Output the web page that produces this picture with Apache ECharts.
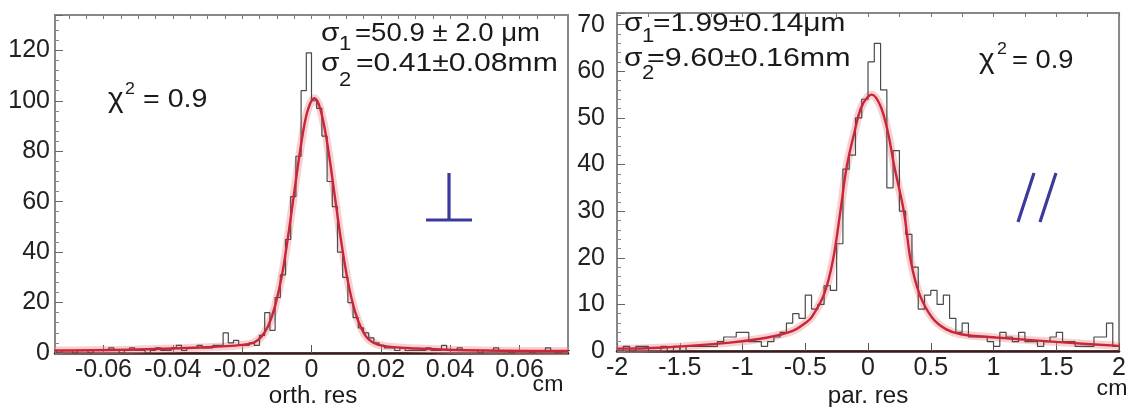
<!DOCTYPE html>
<html><head><meta charset="utf-8">
<script src="https://cdn.jsdelivr.net/npm/echarts@6/dist/echarts.min.js"></script>
<style>html,body{margin:0;padding:0;background:#fff}#c{width:1129px;height:407px}</style>
</head><body><div id="c"></div>
<script>
// ---- Left panel (orthogonal residuals) ----
const orthBinStart = -0.075;
const orthBinWidth = 0.0015;
const orthCounts = [
 1,0,1,1,0,1,1,0,1,1,
 1,2,1,0,1,2,1,1,0,1,
 2,1,1,2,3,1,2,2,3,2,
 2,3,3,8,4,5,3,3,4,3,
 7,16,9,22,31,45,62,78,104,119,
 100,97,86,68,58,40,30,20,14,10,
 8,6,4,3,2,2,1,2,1,1,
 1,1,2,1,1,3,1,1,2,1,
 1,1,0,1,1,2,1,1,0,1,
 1,1,0,1,1,2,1,0,1,1
];
const orthFitX = [-0.074,-0.05,-0.03,-0.02,-0.0165,-0.0145,-0.0125,-0.0105,-0.0085,-0.0065,-0.0045,-0.0025,-0.001,0.0008,0.0025,0.0045,0.0065,0.0085,0.0105,0.0125,0.0145,0.0165,0.02,0.03,0.05,0.074];
const orthFitY = [1,1.4,2.3,3.2,4.2,6.4,10.7,18.7,31,48.6,68.5,87,96.6,101,97,83.5,64.4,44.8,28.4,16.7,9.4,5.4,3,1.8,1,0.8];
const orthXTicks = [-0.06,-0.04,-0.02,0,0.02,0.04,0.06];

// ---- Right panel (parallel residuals) ----
const parBinStart = -2;
const parBinWidth = 0.05;
const parCounts = [
 0,1,0,1,1,0,0,1,0,1,
 0,1,1,1,1,1,2,3,3,4,
 4,2,2,1,2,3,4,6,8,7,
 12,9,10,14,13,23,39,42,50,54,
 62,66,56,35,43,30,25,18,9,12,
 13,10,12,7,4,6,3,3,3,2,
 1,4,3,2,4,2,2,1,2,3,
 4,2,2,1,1,1,3,3,6,1
];
const parFitX = [-2,-1.66,-1.1,-0.8,-0.6,-0.5,-0.45,-0.35,-0.28,-0.22,-0.17,-0.11,-0.05,0.03,0.1,0.16,0.21,0.285,0.34,0.41,0.51,0.62,0.74,1.02,1.58,2];
const parFitY = [0.5,0.7,1.8,2.9,4.3,6,7.2,12.2,19.4,30,39.5,46.7,52.5,55,52.5,46.7,39.5,30,19.4,12.2,7.2,4.7,3.6,2.9,1.8,1.1];
const parXTicks = [-2,-1.5,-1,-0.5,0,0.5,1,1.5,2];

function steps(start, w, counts){
  const d = counts.map((v,i)=>[start+i*w, v]);
  d.push([start+counts.length*w, counts[counts.length-1]]);
  return d;
}
function zip(xs, ys){ return xs.map((x,i)=>[x, ys[i]]); }
function range(a,b,s){ const r=[]; for(let v=a; v<=b+1e-9; v+=s) r.push(+v.toFixed(6)); return r; }

const FONT = 'Liberation Sans, Arial, sans-serif';
const labelStyle = {fontFamily: FONT, fontSize: 25, color: '#222'};
const chart = echarts.init(document.getElementById('c'), null, {renderer:'canvas'});

function xAx(grid, min, max, labels, minor, fmt){
  return [{
    type:'value', gridIndex:grid, min, max,
    axisLine:{show:true, onZero:false, lineStyle:{color:'#3a1a1a', width:2.5}},
    axisTick:{show:true, inside:true, length:8, customValues:labels, lineStyle:{color:'#555'}},
    axisLabel:Object.assign({customValues:labels, margin:5, formatter:fmt}, labelStyle),
    splitLine:{show:false}
  },{
    type:'value', gridIndex:grid, min, max,
    axisLine:{show:false, onZero:false},
    axisTick:{show:true, inside:true, length:4, customValues:minor, lineStyle:{color:'#777'}},
    axisLabel:{show:false}, splitLine:{show:false}
  }];
}
function yAx(grid, max, interval, margin){
  return {
    type:'value', gridIndex:grid, min:0, max, interval,
    axisLine:{show:true, onZero:false, lineStyle:{color:'#888', width:1.5}},
    axisTick:{show:true, inside:true, length:8, lineStyle:{color:'#666'}},
    minorTick:{show:true, splitNumber:5, length:4, lineStyle:{color:'#888'}},
    axisLabel:Object.assign({margin, showMaxLabel:false}, labelStyle),
    splitLine:{show:false}
  };
}
const fmtOrth = v => (Math.abs(v)<1e-9 ? '0' : String(+v.toFixed(2)));
const fmtPar = v => (Math.abs(v)<1e-9 ? '0' : String(+v.toFixed(1)));

const xAxes = [].concat(
  xAx(0, -0.074, 0.074, orthXTicks, range(-0.07,0.07,0.005), fmtOrth),
  xAx(1, -2, 2, parXTicks, range(-2,2,0.25), fmtPar)
);
const yAxes = [yAx(0, 134, 20, 5), yAx(1, 72.5, 10, 12)];

const fitColor = '#c8263a', haloColor = 'rgba(240,150,150,0.45)', histColor = '#4a4a4a';
function histSeries(xi, yi, data){ return {type:'line', xAxisIndex:xi, yAxisIndex:yi, data, step:'end', symbol:'none', lineStyle:{color:histColor, width:1.2}, z:3}; }
function fitSeries(xi, yi, data){ return [
  {type:'line', xAxisIndex:xi, yAxisIndex:yi, data, smooth:0.35, symbol:'none', lineStyle:{color:haloColor, width:8}, z:2},
  {type:'line', xAxisIndex:xi, yAxisIndex:yi, data, smooth:0.35, symbol:'none', lineStyle:{color:fitColor, width:2.4}, z:4}
]; }

function txt(x, y, s, size, sx, extra){
  return Object.assign({type:'text', x, y, scaleX: sx||1,
    style:Object.assign({text:s, font: size+'px '+FONT, fill:'#1a1a1a', textVerticalAlign:'middle'}, extra||{})});
}
function line(x1,y1,x2,y2){ return {type:'line', shape:{x1,y1,x2,y2}, style:{stroke:'#3a3a9c', lineWidth:3.2}}; }

const graphics = [
  // left panel annotations
  txt(321, 34, 'σ', 26, 1.15), txt(339, 44, '1', 21, 1.05), txt(355, 34, '=50.9 ± 2.0 μm', 26, 1.06),
  txt(321, 64, 'σ', 26, 1.15), txt(339, 80, '2', 21, 1.05), txt(356, 64, '=0.41±0.08mm', 26, 1.16),
  txt(108, 100, 'χ', 27, 1.1), txt(125, 89, '2', 17, 1.05), txt(143, 100, '= 0.9', 26, 1.1),
  line(449,173,449,220), line(426,220,472,220),
  txt(313, 397, 'orth. res', 23, 1.05, {textAlign:'center'}),
  txt(548, 385, 'cm', 22, 1.05, {textAlign:'center'}),
  // right panel annotations
  txt(624, 24, 'σ', 26, 1.15), txt(642, 36, '1', 21, 1.05), txt(653, 24, '=1.99±0.14μm', 26, 1.15),
  txt(624, 59, 'σ', 26, 1.15), txt(642, 73, '2', 21, 1.05), txt(647, 59, '=9.60±0.16mm', 26, 1.17),
  txt(979, 61, 'χ', 27, 1.1), txt(997, 49, '2', 17, 1.05), txt(1012, 61, '= 0.9', 26, 1.05),
  line(1034,173,1018,222), line(1056,173,1040,222),
  txt(868, 397, 'par. res', 23, 1.05, {textAlign:'center'}),
  txt(1112, 389, 'cm', 22, 1.05, {textAlign:'center'})
];

chart.setOption({
  animation:false,
  backgroundColor:'#fff',
  grid:[
    {left:55, top:15, width:513, height:338, show:true, borderColor:'#888', borderWidth:2},
    {left:617, top:13, width:505, height:338, show:true, borderColor:'#888', borderWidth:2}
  ],
  xAxis:xAxes,
  yAxis:yAxes,
  series:[].concat(
    fitSeries(0,0, zip(orthFitX, orthFitY)),
    [histSeries(0,0, steps(orthBinStart, orthBinWidth, orthCounts))],
    fitSeries(2,1, zip(parFitX, parFitY)),
    [histSeries(2,1, steps(parBinStart, parBinWidth, parCounts))]
  ),
  graphic:graphics
});
</script></body></html>
